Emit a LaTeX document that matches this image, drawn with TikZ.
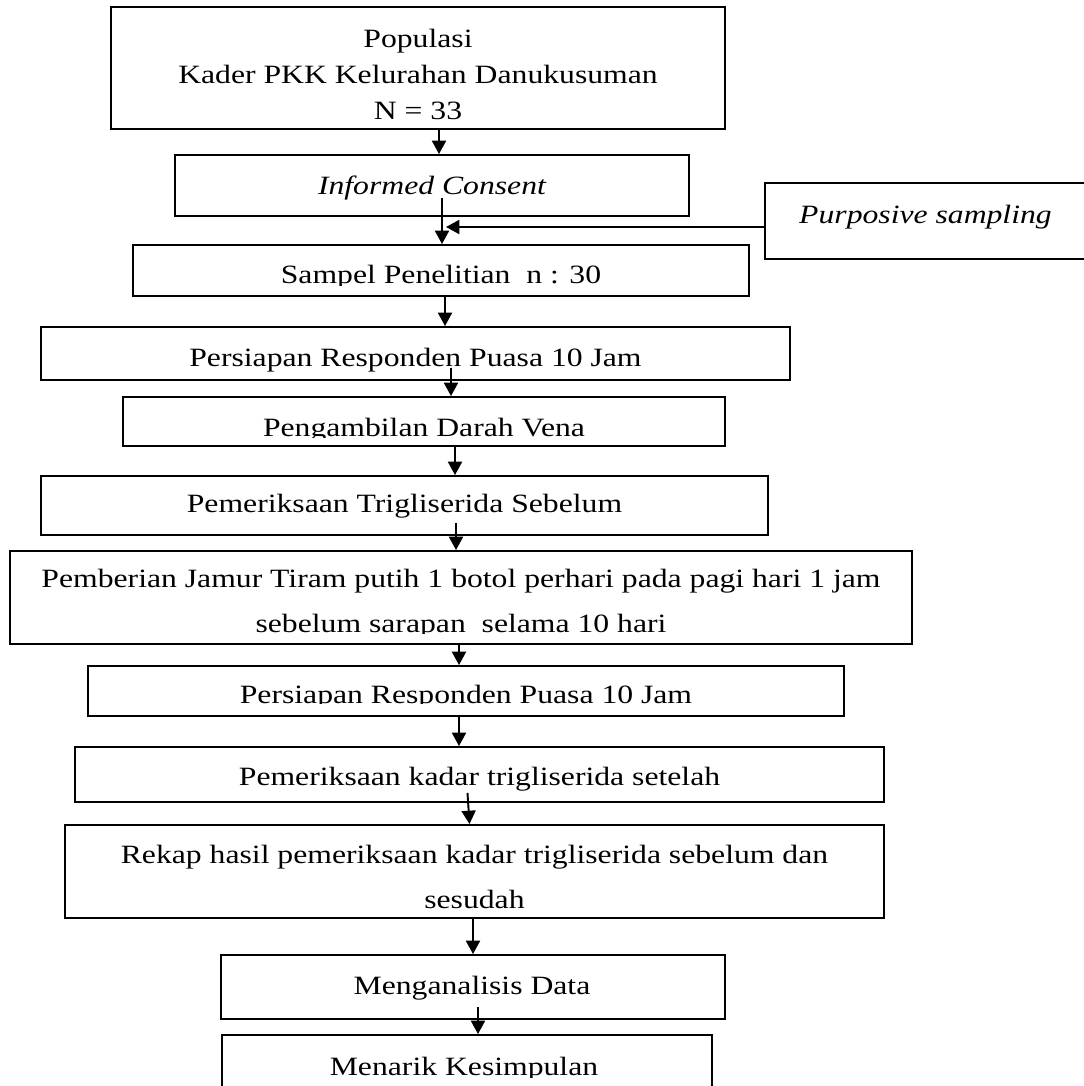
\documentclass[tikz,border=0pt]{standalone}
\usepackage{fontspec}
\setmainfont{Liberation Serif}[FakeStretch=1.2]
\usetikzlibrary{arrows.meta,fit}
\tikzset{
  box/.style={draw, line width=1.45pt, inner sep=0pt, rectangle},
  txt/.style={anchor=base, inner sep=0pt, font=\fontsize{19.8pt}{23pt}\selectfont},
  itxt/.style={anchor=base, inner sep=0pt, font=\fontsize{19.8pt}{23pt}\selectfont\itshape},
  arr/.style={line width=1.45pt, -{Triangle[length=10pt,width=10.5pt]}},
}
\begin{document}
\begin{tikzpicture}[x=0.75pt,y=-0.75pt]
\fill[white] (0,0) rectangle (1083,1086);
\useasboundingbox (0,0) rectangle (1083,1086);

% boxes
\node[box, fit={(111,7) (725,129)}] (b1) {};
\node[box, fit={(175,155) (689,216)}] (b2) {};
\node[box, fit={(765,183) (1092,259)}] (pur) {};
\node[box, fit={(133,245) (749,296)}] (b3) {};
\node[box, fit={(41,327) (790,380)}] (b4) {};
\node[box, fit={(123,397) (725,446)}] (b5) {};
\node[box, fit={(41,476) (768,535)}] (b6) {};
\node[box, fit={(10,551) (912,644)}] (b7) {};
\node[box, fit={(88,666) (844,716)}] (b8) {};
\node[box, fit={(75,747) (884,802)}] (b9) {};
\node[box, fit={(65,825) (884,918)}] (b10) {};
\node[box, fit={(221,955) (725,1019)}] (b11) {};
\node[box, fit={(222,1035) (712,1095)}] (b12) {};

% texts
\begin{scope}
\clip (b1.north west) rectangle ([shift={(0,-10.5)}]b1.south east);
\node[txt] (t1a) at (418,47) {Populasi};
\node[txt] (t1b) at (418,83) {Kader PKK Kelurahan Danukusuman};
\node[txt] (t1c) at (418,119) {N = 33};
\end{scope}
\node[itxt] (t2) at (432,194) {Informed Consent};
\node[itxt] (tp) at (925.5,223) {Purposive sampling};
\begin{scope}
\clip (b3.north west) rectangle ([shift={(0,-11)}]b3.south east);
\node[txt] (t3) at (441,283) {Sampel Penelitian~ n : 30};
\end{scope}
\node[txt] (t4) at (415.5,366) {Persiapan Responden Puasa 10 Jam};
\begin{scope}
\clip (b5.north west) rectangle ([shift={(0,-9)}]b5.south east);
\node[txt] (t5) at (424,436) {Pengambilan Darah Vena};
\end{scope}
\node[txt] (t6) at (404.5,512) {Pemeriksaan Trigliserida Sebelum};
\begin{scope}
\clip (b7.north west) rectangle ([shift={(0,-11)}]b7.south east);
\node[txt] (t7a) at (461,587) {Pemberian Jamur Tiram putih 1 botol perhari pada pagi hari 1 jam};
\node[txt] (t7b) at (461,632) {sebelum sarapan~ selama 10 hari};
\end{scope}
\begin{scope}
\clip (b8.north west) rectangle ([shift={(0,-13)}]b8.south east);
\node[txt] (t8) at (466,703) {Persiapan Responden Puasa 10 Jam};
\end{scope}
\node[txt] (t9) at (479.5,785) {Pemeriksaan kadar trigliserida setelah};
\node[txt] (t10a) at (474.5,863) {Rekap hasil pemeriksaan kadar trigliserida sebelum dan};
\node[txt] (t10b) at (474.5,908) {sesudah};
\node[txt] (t11) at (472,994) {Menganalisis Data};
\begin{scope}
\clip (b12.north west) rectangle ([shift={(0,-18)}]b12.south east);
\node[txt] (t12) at (464,1075) {Menarik Kesimpulan};
\end{scope}

% connectors
\coordinate (pjoin) at (446,227);
\draw[arr] ([shift={(21,0)}]b1.south) -- ([shift={(7,0)}]b2.north);
\draw[arr] ([shift={(10,-19)}]b2.south) -- ([shift={(1,0)}]b3.north);
\draw[arr] ([shift={(0,6)}]pur.west) -- (pjoin);
\draw[arr] ([shift={(4,0)}]b3.south) -- ([shift={(29.5,0)}]b4.north);
\draw[arr] ([shift={(35.5,-13)}]b4.south) -- ([shift={(27,0)}]b5.north);
\draw[arr] ([shift={(31,0)}]b5.south) -- ([shift={(50.5,0)}]b6.north);
\draw[arr] ([shift={(51.5,-13)}]b6.south) -- ([shift={(-5,0)}]b7.north);
\draw[arr] ([shift={(-2,0)}]b7.south) -- ([shift={(-7,0)}]b8.north);
\draw[arr] ([shift={(-7,0)}]b8.south) -- ([shift={(-20.5,0)}]b9.north);
\draw[arr] ([shift={(-12,-10)}]b9.south) -- ([shift={(-5,0)}]b10.north);
\draw[arr] ([shift={(-1.5,0)}]b10.south) -- (b11.north);
\draw[arr] ([shift={(5,-13)}]b11.south) -- ([shift={(11,0)}]b12.north);
\end{tikzpicture}
\end{document}
